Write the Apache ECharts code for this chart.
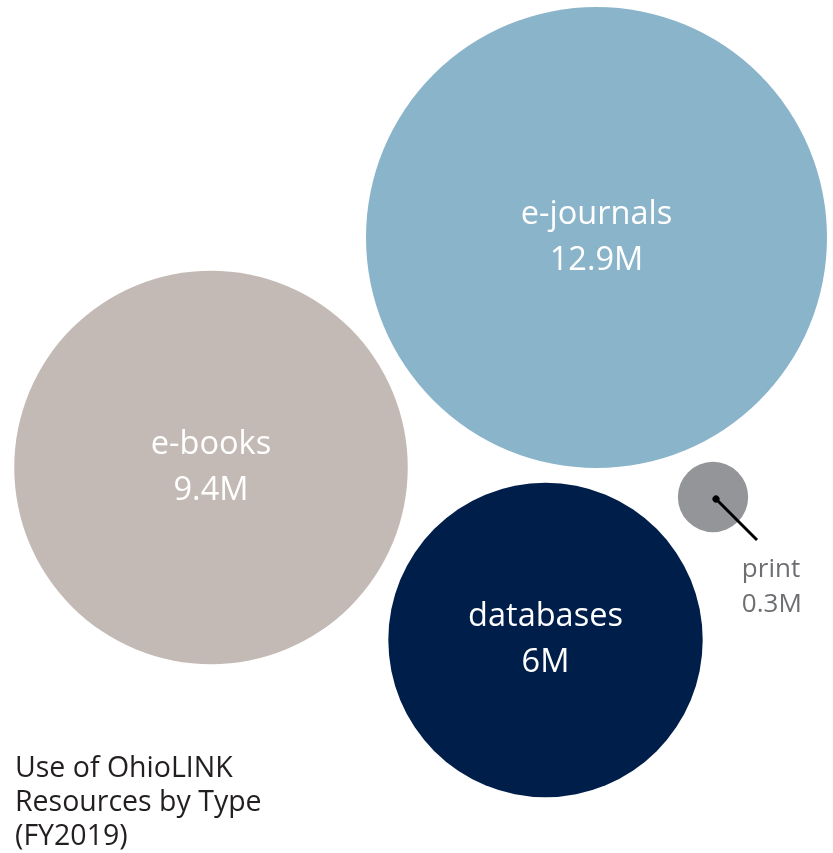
<!DOCTYPE html>
<html>
<head>
<meta charset="utf-8">
<script src="https://cdn.jsdelivr.net/npm/echarts@6/dist/echarts.min.js"></script>
<style>html,body{margin:0;padding:0;background:#fff}#c{width:833px;height:853px}</style>
</head>
<body>
<div id="c"></div>
<script>
// Data
const categories = ['e-journals', 'e-books', 'databases', 'print'];
const values = [12.9, 9.4, 6, 0.3]; // millions of uses
const titleLines = ['Use of OhioLINK', 'Resources by Type', '(FY2019)'];
// Packed-bubble layout (centres, in chart units)
const layoutX = [596.5, 211, 545.5, 713];
const layoutY = [237.5, 467.5, 640, 497];
const colors = ['#8ab4c9', '#c4bab5', '#001e4a', '#939598'];

const R_MAX = 230.5;
const maxV = Math.max.apply(null, values);
function size(v) { return 2 * R_MAX * Math.sqrt(v / maxV); }

const bubbleData = categories.map(function (c, i) {
  const small = size(values[i]) < 120;
  return {
    name: c,
    value: [layoutX[i], layoutY[i], values[i]],
    itemStyle: { color: colors[i], opacity: 1 },
    label: small ? {
      position: [64, 90],
      align: 'left',
      verticalAlign: 'top',
      color: '#6d6e71',
      fontSize: 26,
      lineHeight: 35
    } : {
      position: 'inside',
      color: '#ffffff',
      fontSize: 32.5,
      lineHeight: 46
    }
  };
});

const pi = 3;
const leader = [{ coords: [[layoutX[pi] + 3, layoutY[pi] + 2], [layoutX[pi] + 44, layoutY[pi] + 43]] }];

const chart = echarts.init(document.getElementById('c'), null, { renderer: 'canvas' });
chart.setOption({
  animation: false,
  backgroundColor: '#ffffff',
  title: {
    text: titleLines.join('\n'),
    left: 10,
    top: 747,
    textStyle: { fontFamily: 'Open Sans', fontSize: 28.5, fontWeight: 'normal', color: '#231f20', lineHeight: 34 }
  },
  grid: { left: 0, right: 0, top: 0, bottom: 0 },
  xAxis: { type: 'value', min: 0, max: 833, show: false },
  yAxis: { type: 'value', min: 0, max: 853, inverse: true, show: false },
  textStyle: { fontFamily: 'Open Sans' },
  series: [
    {
      type: 'scatter',
      data: bubbleData,
      symbolSize: function (val) { return size(val[2]); },
      itemStyle: { opacity: 1 },
      label: {
        show: true,
        fontFamily: 'Open Sans',
        formatter: function (p) { return p.name + '\n' + p.value[2] + 'M'; }
      },
      emphasis: { disabled: true },
      z: 2
    },
    {
      type: 'lines',
      coordinateSystem: 'cartesian2d',
      data: leader,
      symbol: ['circle', 'none'],
      symbolSize: [7, 0],
      lineStyle: { color: '#000000', width: 3, opacity: 1 },
      z: 3
    }
  ]
});
</script>
</body>
</html>
